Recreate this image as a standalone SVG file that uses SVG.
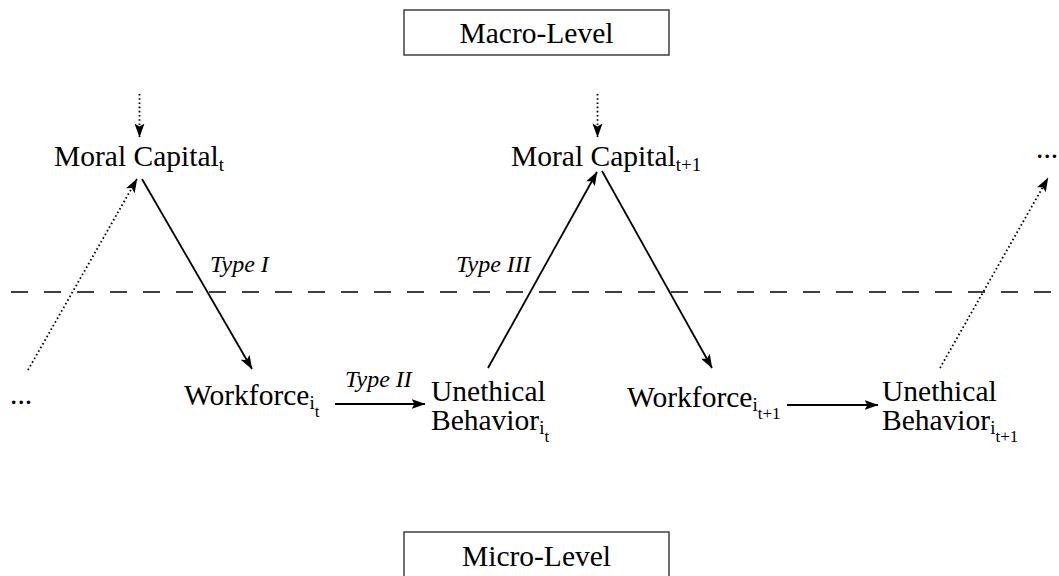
<svg xmlns="http://www.w3.org/2000/svg" width="1059" height="576" viewBox="0 0 1059 576">
  <style>
    text { font-family: "Liberation Serif", "Times New Roman", serif; fill: #000; }
    .node { font-size: 29.5px; }
    .sub { font-size: 19px; }
    .subsub { font-size: 17px; }
    .lbl { font-size: 24px; font-style: italic; }
    .box { fill: #fff; stroke: #333; stroke-width: 1.4; }
    .solid { stroke: #000; stroke-width: 1.8; fill: none; marker-end: url(#head); }
    .dotted { stroke: #000; stroke-width: 1.8; fill: none; stroke-dasharray: 1.6 2.6; marker-end: url(#head); }
    .divider { stroke: #000; stroke-width: 1.4; stroke-dasharray: 17 16; }
  </style>
  <defs>
    <marker id="head" viewBox="0 0 14 10" refX="13.5" refY="5" markerWidth="14" markerHeight="10" markerUnits="userSpaceOnUse" orient="auto">
      <path d="M0,0 L14,5 L0,10 L3,5 z" fill="#000"/>
    </marker>
  </defs>

  <!-- level boxes -->
  <g id="macro-level">
    <rect class="box" x="404" y="10" width="265" height="45"/>
    <text class="node" x="536.5" y="43" text-anchor="middle">Macro-Level</text>
  </g>
  <g id="micro-level">
    <rect class="box" x="404" y="532" width="265" height="60"/>
    <text class="node" x="536.5" y="566" text-anchor="middle">Micro-Level</text>
  </g>

  <!-- boundary between levels -->
  <line class="divider" x1="11" y1="292" x2="1059" y2="292"/>

  <g id="moral-capital-t">
    <text class="node" x="54" y="166">Moral Capital<tspan class="sub" dy="5">t</tspan></text>
  </g>
  <g id="moral-capital-t1">
    <text class="node" x="511" y="166">Moral Capital<tspan class="sub" dy="5">t+1</tspan></text>
  </g>
  <g id="workforce-t">
    <text class="node" x="184" y="405">Workforce<tspan class="sub" dy="4">i</tspan><tspan class="subsub" dy="8">t</tspan></text>
  </g>
  <g id="unethical-t">
    <text class="node" x="431" y="401">Unethical</text>
    <text class="node" x="431" y="430">Behavior<tspan class="sub" dy="4">i</tspan><tspan class="subsub" dy="8">t</tspan></text>
  </g>
  <g id="workforce-t1">
    <text class="node" x="627" y="407">Workforce<tspan class="sub" dy="4">i</tspan><tspan class="subsub" dy="8">t+1</tspan></text>
  </g>
  <g id="unethical-t1">
    <text class="node" x="882" y="401">Unethical</text>
    <text class="node" x="882" y="430">Behavior<tspan class="sub" dy="4">i</tspan><tspan class="subsub" dy="8">t+1</tspan></text>
  </g>
  <g id="ellipsis-left">
    <text class="node" x="10" y="404">...</text>
  </g>
  <g id="ellipsis-right">
    <text class="node" x="1036" y="158">...</text>
  </g>

  <g id="connectors">
    <!-- incoming influences from outside the window -->
    <line class="dotted" x1="139.5" y1="94" x2="139.5" y2="137"/>
    <line class="dotted" x1="597.5" y1="94" x2="597.5" y2="137"/>
    <line class="dotted" x1="28" y1="370" x2="137" y2="179"/>
    <line class="dotted" x1="940" y1="368" x2="1048" y2="178"/>
    <!-- Type I: moral capital to workforce -->
    <line class="solid" x1="142" y1="179" x2="252" y2="369"/>
    <line class="solid" x1="602" y1="171" x2="712" y2="368"/>
    <!-- Type II: workforce to unethical behavior -->
    <line class="solid" x1="335" y1="404" x2="425" y2="404"/>
    <line class="solid" x1="787" y1="405" x2="878" y2="405"/>
    <!-- Type III: unethical behavior to moral capital -->
    <line class="solid" x1="488" y1="368" x2="597" y2="172"/>
    <!-- edge labels -->
    <text class="lbl" x="210" y="272">Type I</text>
    <text class="lbl" x="345" y="387">Type II</text>
    <text class="lbl" x="456" y="272">Type III</text>
  </g>
</svg>
